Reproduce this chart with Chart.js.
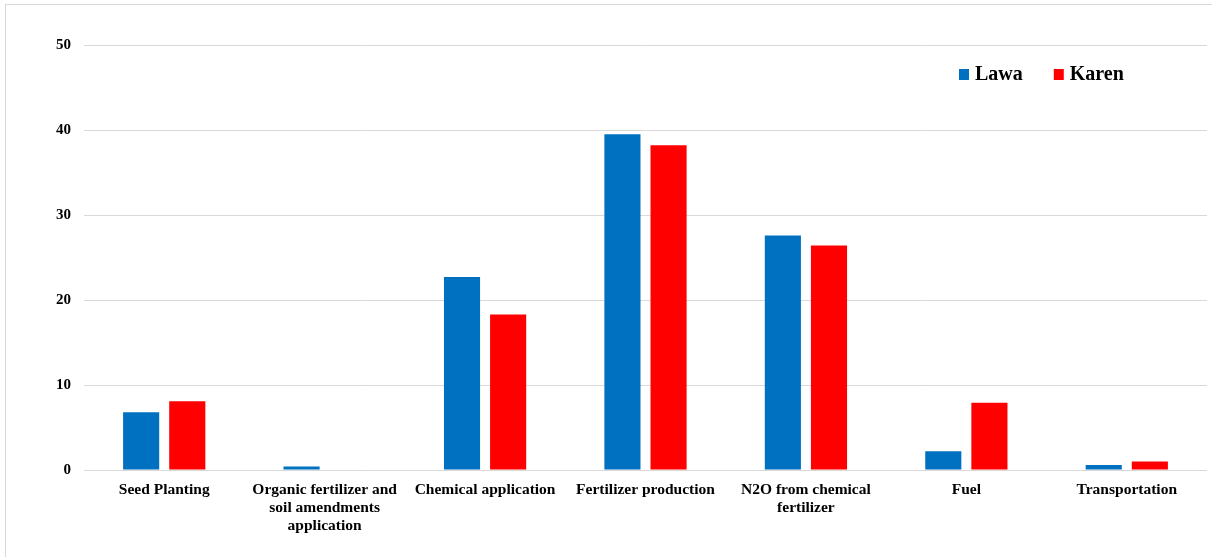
<!DOCTYPE html>
<html lang="en">

<head>
    <meta charset="UTF-8">
    <title>Lawa vs Karen</title>
    <script src="https://cdn.jsdelivr.net/npm/chart.js@4.4.0/dist/chart.umd.min.js"></script>
    <style>
        body {
            margin: 0;
            background: #ffffff;
        }

        .frame {
            position: absolute;
            left: 5px;
            top: 4px;
            width: 1210px;
            height: 560px;
            border-left: 1px solid #d9d9d9;
            border-top: 1px solid #d9d9d9;
            pointer-events: none;
        }

        .graph-container {
            position: absolute;
            left: 0;
            top: 0;
            width: 1212px;
            height: 557px;
        }
    </style>
</head>

<body>
    <div class="graph-container">
        <canvas id="myChart"></canvas>
    </div>
    <div class="frame"></div>

    <script>
        const categories = [
            ['Seed Planting'],
            ['Organic fertilizer and', 'soil amendments', 'application'],
            ['Chemical application'],
            ['Fertilizer production'],
            ['N2O from chemical', 'fertilizer'],
            ['Fuel'],
            ['Transportation']
        ];
        const lawaValues = [6.8, 0.4, 22.7, 39.5, 27.6, 2.2, 0.6];
        const karenValues = [8.1, 0, 18.3, 38.2, 26.4, 7.9, 1.0];
        const yTicks = [0, 10, 20, 30, 40, 50];

        const serif = '"Liberation Serif", "Times New Roman", serif';

        // 右上の凡例 (グラフ領域の中に描く)
        const innerLegend = {
            id: 'innerLegend',
            afterDraw(chart) {
                const c = chart.ctx;
                const area = chart.chartArea;
                let x = area.right - 248;
                const y = area.top + 30;
                c.save();
                c.font = 'bold 20px ' + serif;
                c.textBaseline = 'middle';
                c.textAlign = 'left';
                chart.data.datasets.forEach(ds => {
                    c.fillStyle = ds.backgroundColor;
                    c.fillRect(x, y - 6, 10, 11);
                    c.fillStyle = '#000000';
                    c.fillText(ds.label, x + 16, y);
                    x += 16 + c.measureText(ds.label).width + 31;
                });
                c.restore();
            }
        };

        const ctx = document.getElementById('myChart').getContext('2d');
        const chart = new Chart(ctx, {
            type: 'bar',
            data: {
                labels: categories,
                datasets: [{
                    label: 'Lawa',
                    data: lawaValues,
                    backgroundColor: '#0070C0',
                    categoryPercentage: 0.575,
                    barPercentage: 0.783
                }, {
                    label: 'Karen',
                    data: karenValues,
                    backgroundColor: '#FF0000',
                    categoryPercentage: 0.575,
                    barPercentage: 0.783
                }]
            },
            options: {
                responsive: true,
                maintainAspectRatio: false,
                animation: false,
                layout: {
                    padding: { top: 45, right: 5, left: 0, bottom: 0 }
                },
                plugins: {
                    legend: { display: false },
                    tooltip: { enabled: false }
                },
                scales: {
                    x: {
                        grid: { display: false, drawTicks: false },
                        border: { display: false },
                        ticks: {
                            color: '#000000',
                            padding: 11,
                            maxRotation: 0,
                            autoSkip: false,
                            font: { family: serif, size: 15.5, weight: 'bold', lineHeight: 1.17 }
                        },
                        afterFit(scale) {
                            scale.height = 87;
                        }
                    },
                    y: {
                        min: 0,
                        max: 50,
                        afterBuildTicks(scale) {
                            scale.ticks = yTicks.map(v => ({ value: v }));
                        },
                        grid: { color: '#d9d9d9', drawTicks: false, lineWidth: 1 },
                        border: { display: false },
                        ticks: {
                            color: '#000000',
                            padding: 13,
                            font: { family: serif, size: 15, weight: 'bold' }
                        },
                        afterFit(scale) {
                            scale.width = 84;
                        }
                    }
                }
            },
            plugins: [innerLegend]
        });
    </script>
</body>

</html>
